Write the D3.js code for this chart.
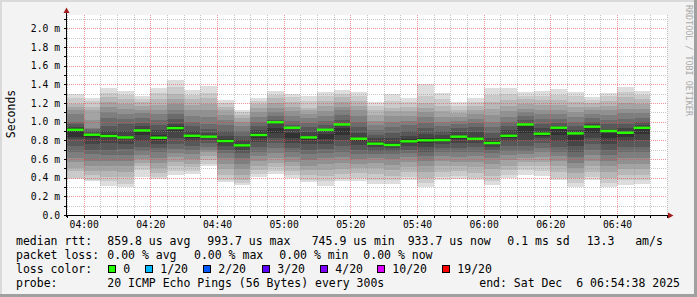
<!DOCTYPE html>
<html>
<head>
<meta charset="utf-8">
<script src="https://cdn.jsdelivr.net/npm/d3@7"></script>
<style>
body { margin: 0; background: #f3f3f3; }
svg text { font-family: "DejaVu Sans Mono", monospace; fill: #000; }
</style>
</head>
<body>
<svg id="chart" width="697" height="297"></svg>
<script>
// end time of each 5 minute step
var times = ['04:00','04:05','04:10','04:15','04:20','04:25','04:30','04:35','04:40','04:45',
             '04:50','04:55','05:00','05:05','05:10','05:15','05:20','05:25','05:30','05:35',
             '05:40','05:45','05:50','05:55','06:00','06:05','06:10','06:15','06:20','06:25',
             '06:30','06:35','06:40','06:45','06:50'];

// median rtt per step (ms)
var medians = [0.913,0.860,0.846,0.831,0.906,0.828,0.931,0.849,0.839,0.792,
               0.746,0.857,0.994,0.935,0.831,0.913,0.970,0.817,0.764,0.750,
               0.789,0.800,0.803,0.839,0.817,0.771,0.849,0.970,0.871,0.935,
               0.874,0.946,0.900,0.881,0.934];

// 20 sorted ping times per step (ms)
var pings = [
  [0.39,0.40,0.47,0.50,0.57,0.61,0.68,0.74,0.81,0.84,0.93,0.94,0.97,1.00,1.08,1.12,1.16,1.19,1.25,1.30],
  [0.36,0.37,0.43,0.47,0.53,0.58,0.65,0.70,0.76,0.83,0.87,0.88,0.90,0.92,0.93,1.02,1.12,1.16,1.22,1.25],
  [0.31,0.36,0.41,0.47,0.53,0.58,0.64,0.70,0.77,0.82,0.87,0.90,0.95,1.04,1.10,1.16,1.21,1.26,1.31,1.36],
  [0.30,0.33,0.41,0.46,0.52,0.58,0.64,0.71,0.76,0.81,0.85,0.90,0.97,1.03,1.08,1.14,1.19,1.24,1.29,1.33],
  [0.41,0.48,0.52,0.56,0.60,0.64,0.69,0.73,0.79,0.86,0.92,0.95,0.99,1.04,1.09,1.13,1.17,1.21,1.24,1.28],
  [0.39,0.41,0.45,0.50,0.56,0.61,0.67,0.72,0.76,0.80,0.86,0.91,0.96,1.02,1.08,1.13,1.18,1.24,1.31,1.36],
  [0.43,0.47,0.52,0.57,0.62,0.66,0.71,0.76,0.82,0.90,0.95,0.98,1.03,1.08,1.13,1.19,1.24,1.30,1.37,1.45],
  [0.44,0.47,0.51,0.55,0.60,0.65,0.70,0.74,0.79,0.83,0.87,0.90,0.95,1.00,1.06,1.12,1.18,1.24,1.29,1.34],
  [0.52,0.55,0.59,0.63,0.67,0.70,0.73,0.77,0.80,0.83,0.85,0.88,0.92,0.98,1.05,1.12,1.19,1.25,1.31,1.38],
  [0.35,0.38,0.43,0.49,0.55,0.61,0.66,0.70,0.74,0.77,0.81,0.85,0.90,0.96,1.02,1.07,1.12,1.16,1.20,1.23],
  [0.32,0.34,0.38,0.43,0.49,0.55,0.61,0.66,0.70,0.73,0.76,0.80,0.85,0.90,0.95,1.00,1.04,1.07,1.10,1.12],
  [0.41,0.44,0.48,0.53,0.58,0.63,0.68,0.73,0.78,0.83,0.88,0.91,0.95,1.00,1.05,1.10,1.15,1.19,1.22,1.25],
  [0.44,0.47,0.51,0.56,0.61,0.66,0.72,0.77,0.82,0.88,0.93,0.99,1.02,1.06,1.10,1.15,1.20,1.25,1.29,1.33],
  [0.40,0.43,0.47,0.52,0.57,0.62,0.67,0.72,0.77,0.82,0.88,0.92,0.96,1.01,1.06,1.11,1.16,1.21,1.26,1.30],
  [0.35,0.38,0.43,0.48,0.53,0.59,0.65,0.70,0.76,0.80,0.85,0.89,0.94,0.99,1.04,1.08,1.12,1.15,1.22,1.28],
  [0.31,0.36,0.42,0.48,0.55,0.61,0.66,0.71,0.76,0.81,0.87,0.92,0.96,1.01,1.06,1.11,1.17,1.22,1.27,1.32],
  [0.36,0.39,0.44,0.49,0.56,0.62,0.68,0.74,0.80,0.86,0.93,0.98,1.02,1.07,1.12,1.16,1.21,1.26,1.30,1.34],
  [0.36,0.40,0.45,0.50,0.55,0.60,0.65,0.70,0.75,0.79,0.83,0.88,0.94,1.00,1.06,1.12,1.17,1.22,1.27,1.32],
  [0.33,0.38,0.44,0.50,0.56,0.61,0.65,0.69,0.73,0.75,0.78,0.82,0.86,0.91,0.96,1.01,1.07,1.12,1.17,1.21],
  [0.33,0.37,0.42,0.48,0.54,0.60,0.65,0.69,0.72,0.74,0.77,0.82,0.88,0.94,1.00,1.06,1.11,1.15,1.22,1.30],
  [0.37,0.41,0.46,0.51,0.57,0.62,0.66,0.70,0.74,0.77,0.81,0.85,0.90,0.96,1.01,1.06,1.11,1.16,1.21,1.25],
  [0.30,0.34,0.40,0.46,0.52,0.58,0.63,0.68,0.73,0.77,0.82,0.87,0.93,0.99,1.05,1.10,1.15,1.20,1.27,1.40],
  [0.37,0.41,0.46,0.52,0.58,0.63,0.68,0.72,0.76,0.79,0.82,0.86,0.90,0.95,1.00,1.05,1.11,1.17,1.24,1.31],
  [0.39,0.42,0.47,0.52,0.57,0.62,0.67,0.72,0.77,0.81,0.85,0.89,0.93,0.97,1.01,1.05,1.09,1.13,1.17,1.21],
  [0.37,0.40,0.45,0.51,0.57,0.63,0.68,0.73,0.77,0.80,0.84,0.89,0.94,0.99,1.03,1.08,1.13,1.17,1.21,1.25],
  [0.32,0.36,0.42,0.49,0.55,0.61,0.66,0.70,0.73,0.76,0.79,0.83,0.88,0.94,1.00,1.07,1.14,1.21,1.29,1.36],
  [0.40,0.43,0.48,0.53,0.59,0.64,0.69,0.74,0.79,0.83,0.87,0.91,0.95,1.00,1.05,1.11,1.17,1.23,1.30,1.36],
  [0.43,0.48,0.53,0.57,0.61,0.65,0.69,0.74,0.80,0.88,0.95,0.99,1.02,1.06,1.10,1.14,1.19,1.24,1.28,1.32],
  [0.42,0.47,0.52,0.57,0.62,0.67,0.72,0.77,0.82,0.85,0.89,0.93,0.98,1.03,1.08,1.13,1.18,1.23,1.28,1.33],
  [0.37,0.40,0.46,0.52,0.58,0.63,0.68,0.73,0.79,0.86,0.92,0.95,0.99,1.03,1.08,1.13,1.18,1.23,1.29,1.35],
  [0.30,0.34,0.40,0.45,0.50,0.56,0.62,0.68,0.74,0.80,0.87,0.91,0.95,1.00,1.05,1.10,1.16,1.21,1.27,1.32],
  [0.37,0.41,0.46,0.52,0.58,0.64,0.70,0.76,0.82,0.88,0.94,0.97,1.00,1.04,1.08,1.12,1.16,1.20,1.23,1.26],
  [0.30,0.34,0.40,0.46,0.52,0.58,0.64,0.70,0.76,0.82,0.88,0.92,0.97,1.02,1.07,1.12,1.17,1.22,1.27,1.31],
  [0.32,0.37,0.43,0.49,0.55,0.61,0.67,0.73,0.79,0.84,0.89,0.93,0.98,1.03,1.09,1.14,1.20,1.26,1.32,1.37],
  [0.33,0.37,0.43,0.49,0.55,0.61,0.67,0.73,0.80,0.87,0.93,0.96,1.00,1.04,1.09,1.14,1.19,1.24,1.29,1.33]
];

var yTicks = [0,0.2,0.4,0.6,0.8,1.0,1.2,1.4,1.6,1.8,2.0];
var yTickLabels = ['0.0','0.2 m','0.4 m','0.6 m','0.8 m','1.0 m','1.2 m','1.4 m','1.6 m','1.8 m','2.0 m'];

// smoke shades, outer pair of pings first
var smokeGreys = ['#dddddd','#cacaca','#b7b7b7','#a4a4a4','#919191','#7e7e7e','#6b6b6b','#585858','#454545','#323232'];

var lossLabels = ['0','1/20','2/20','3/20','4/20','10/20','19/20'];
var lossColors = ['#26ff00','#00b8ff','#0059ff','#5e00ff','#7e00ff','#dd00ff','#ff0000'];

var rttStats = ['859.8 us avg','993.7 us max','745.9 us min','933.7 us now','0.1 ms sd','13.3   am/s'];
var lossStats = ['0.00 % avg','0.00 % max','0.00 % min','0.00 % now'];
var probeText = '20 ICMP Echo Pings (56 Bytes) every 300s';
var endText = 'end: Sat Dec  6 06:54:38 2025';

/**********************
 Layout
**********************/
var svg = d3.select('#chart');
var W = +svg.attr('width'), H = +svg.attr('height');
var plot = {l: 67, r: 667, t: 15, b: 215};

var parseTime = d3.timeParse('%H:%M');
var xScale = d3.scaleTime()
  .domain([parseTime('03:55'), parseTime('06:55')])
  .range([plot.l, plot.r]);
var yScale = d3.scaleLinear()
  .domain([0, 2.1425])
  .range([plot.b, plot.t]);

var crisp = function(v) { return Math.round(v) + 0.5; };

// background + 3d frame
svg.append('rect').attr('width', W).attr('height', H).attr('fill', '#f3f3f3');
svg.append('rect').attr('x', 0).attr('y', 0).attr('width', W).attr('height', 2).attr('fill', '#dadada');
svg.append('rect').attr('x', 0).attr('y', 0).attr('width', 2).attr('height', H).attr('fill', '#dadada');
svg.append('rect').attr('x', 0).attr('y', H - 3).attr('width', W).attr('height', 3).attr('fill', '#a0a0a0');
svg.append('rect').attr('x', W - 3).attr('y', 0).attr('width', 3).attr('height', H).attr('fill', '#a0a0a0');

// canvas
svg.append('rect')
  .attr('x', plot.l).attr('y', plot.t)
  .attr('width', plot.r - plot.l).attr('height', plot.b - plot.t)
  .attr('fill', '#ffffff');

/**********************
 Smoke
**********************/
var steps = times.map(function(t, i) {
  var end = parseTime(t);
  return {start: d3.timeMinute.offset(end, -5), end: end, pings: pings[i], median: medians[i]};
});

var smokeG = svg.append('g');
smokeGreys.forEach(function(col, k) {
  smokeG.append('g').selectAll('rect')
    .data(steps)
    .enter()
    .append('rect')
    .attr('x', function(d) { return xScale(d.start); })
    .attr('width', function(d) { return xScale(d.end) - xScale(d.start); })
    .attr('y', function(d) { return yScale(d.pings[19 - k]); })
    .attr('height', function(d) { return yScale(d.pings[k]) - yScale(d.pings[19 - k]); })
    .attr('fill', col)
    .attr('shape-rendering', 'crispEdges');
});

/**********************
 Grid
**********************/
var gridG = svg.append('g').attr('fill', 'none').attr('stroke-dasharray', '1,1');

var allX = xScale.ticks(d3.timeMinute.every(5));
var minorX = allX.filter(function(d) { return d.getMinutes() % 20 != 0; });
var majorX = xScale.ticks(d3.timeMinute.every(20));
var allY = yScale.ticks(20);
var minorY = allY.filter(function(d) { return Math.round(d * 10) % 2 != 0; });
var majorY = yTicks.filter(function(d) { return d > 0; });

gridG.selectAll('line.minx').data(minorX).enter().append('line')
  .attr('x1', function(d) { return crisp(xScale(d)); })
  .attr('x2', function(d) { return crisp(xScale(d)); })
  .attr('y1', plot.t).attr('y2', plot.b)
  .attr('stroke', 'rgba(143,143,143,0.5)');
gridG.selectAll('line.miny').data(minorY).enter().append('line')
  .attr('y1', function(d) { return crisp(yScale(d)); })
  .attr('y2', function(d) { return crisp(yScale(d)); })
  .attr('x1', plot.l).attr('x2', plot.r)
  .attr('stroke', 'rgba(143,143,143,0.5)');
gridG.selectAll('line.majx').data(majorX).enter().append('line')
  .attr('x1', function(d) { return crisp(xScale(d)); })
  .attr('x2', function(d) { return crisp(xScale(d)); })
  .attr('y1', plot.t).attr('y2', plot.b)
  .attr('stroke', 'rgba(222,80,80,0.6)');
gridG.selectAll('line.majy').data(majorY).enter().append('line')
  .attr('y1', function(d) { return crisp(yScale(d)); })
  .attr('y2', function(d) { return crisp(yScale(d)); })
  .attr('x1', plot.l).attr('x2', plot.r)
  .attr('stroke', 'rgba(222,80,80,0.6)');

/**********************
 Median
**********************/
svg.append('g').selectAll('rect')
  .data(steps)
  .enter()
  .append('rect')
  .attr('x', function(d) { return xScale(d.start); })
  .attr('width', function(d) { return xScale(d.end) - xScale(d.start); })
  .attr('y', function(d) { return yScale(d.median) - 1.2; })
  .attr('height', 2.4)
  .attr('fill', lossColors[0]);

/**********************
 Axes
**********************/
// small ticks on every grid line
svg.append('g').selectAll('line').data(allY).enter().append('line')
  .attr('x1', plot.l - 3).attr('x2', plot.l)
  .attr('y1', function(d) { return crisp(yScale(d)); })
  .attr('y2', function(d) { return crisp(yScale(d)); })
  .attr('stroke', '#000');
svg.append('g').selectAll('line').data(allX).enter().append('line')
  .attr('y1', plot.b).attr('y2', plot.b + 3)
  .attr('x1', function(d) { return crisp(xScale(d)); })
  .attr('x2', function(d) { return crisp(xScale(d)); })
  .attr('stroke', '#000');

var yAxis = d3.axisLeft(yScale)
  .tickValues(yTicks)
  .tickSize(3)
  .tickPadding(4)
  .tickFormat(function(d, i) { return yTickLabels[i]; });
var yAxisG = svg.append('g').attr('transform', 'translate(' + plot.l + ',0)').call(yAxis);

var xAxis = d3.axisBottom(xScale)
  .ticks(d3.timeMinute.every(20))
  .tickSize(2)
  .tickPadding(4)
  .tickFormat(d3.timeFormat('%H:%M'));
var xAxisG = svg.append('g').attr('transform', 'translate(0,' + plot.b + ')').call(xAxis);

[yAxisG, xAxisG].forEach(function(g) {
  g.select('.domain').remove();
  g.selectAll('.tick line').remove();
  g.selectAll('text').attr('font-size', '9.7px').attr('font-family', '"DejaVu Sans Mono", monospace').attr('fill', '#000');
});

// axis lines with arrows
svg.append('line').attr('x1', plot.l - 0.5).attr('x2', plot.l - 0.5).attr('y1', plot.b + 2).attr('y2', 12)
  .attr('stroke', '#000').attr('stroke-width', 1);
svg.append('line').attr('x1', plot.l - 3).attr('x2', plot.r + 3).attr('y1', plot.b + 0.5).attr('y2', plot.b + 0.5)
  .attr('stroke', '#000').attr('stroke-width', 1);
svg.append('path')
  .attr('d', 'M' + (plot.l - 3.5) + ',13 L' + (plot.l - 0.5) + ',7.5 L' + (plot.l + 2.5) + ',13 Z')
  .attr('fill', '#a01e1e');
svg.append('path')
  .attr('d', 'M' + (plot.r + 1) + ',' + (plot.b - 2.5) + ' L' + (plot.r + 6.5) + ',' + (plot.b + 0.5) + ' L' + (plot.r + 1) + ',' + (plot.b + 3.5) + ' Z')
  .attr('fill', '#a01e1e');

// vertical axis title
svg.append('text')
  .attr('transform', 'translate(15,114) rotate(-90)')
  .attr('text-anchor', 'middle')
  .attr('font-size', '11.5px')
  .text('Seconds');

// watermark
svg.append('text')
  .attr('transform', 'translate(686,5) rotate(90)')
  .attr('font-size', '8.4px')
  .style('fill', '#aaaaaa')
  .text('RRDTOOL / TOBI OETIKER');

/**********************
 Legend
**********************/
var legend = svg.append('g').attr('font-size', '11.5px');
var rowY = [245, 259, 273, 287];

legend.append('text').attr('x', 16).attr('y', rowY[0]).text('median rtt:');
legend.selectAll('text.rtt').data(rttStats).enter().append('text')
  .attr('x', function(d, i) { return [107.3, 207.3, 311.7, 407.7, 507.3, 586.7][i]; })
  .attr('y', rowY[0])
  .style('white-space', 'pre')
  .text(function(d) { return d; });

legend.append('text').attr('x', 16).attr('y', rowY[1]).text('packet loss:');
legend.selectAll('text.loss').data(lossStats).enter().append('text')
  .attr('x', function(d, i) { return [107.3, 194, 279.3, 363.3][i]; })
  .attr('y', rowY[1])
  .text(function(d) { return d; });

legend.append('text').attr('x', 16).attr('y', rowY[2]).text('loss color:');
var boxX = [108.5, 145.5, 203.5, 262.5, 320.5, 377.5, 442.5];
legend.selectAll('rect.lc').data(lossColors).enter().append('rect')
  .attr('x', function(d, i) { return boxX[i]; })
  .attr('y', rowY[2] - 7.5)
  .attr('width', 7).attr('height', 7)
  .attr('fill', function(d) { return d; })
  .attr('stroke', '#000').attr('stroke-width', 1);
legend.selectAll('text.ll').data(lossLabels).enter().append('text')
  .attr('x', function(d, i) { return boxX[i] + 14.8; })
  .attr('y', rowY[2])
  .text(function(d) { return d; });

legend.append('text').attr('x', 16).attr('y', rowY[3]).text('probe:');
legend.append('text').attr('x', 107.3).attr('y', rowY[3]).text(probeText);
legend.append('text').attr('x', 680).attr('y', rowY[3]).attr('text-anchor', 'end')
  .style('white-space', 'pre').text(endText);
</script>
</body>
</html>
